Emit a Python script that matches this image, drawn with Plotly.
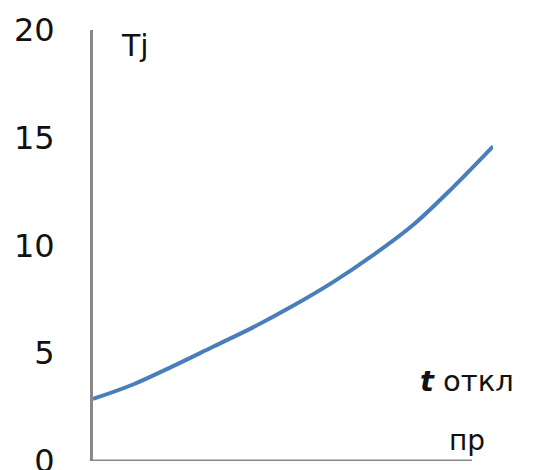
import plotly.graph_objects as go

# Data
x_vals = [0, 1, 2, 3, 4, 5, 6, 7, 8, 9, 10]
tj_vals = [2.88, 3.55, 4.4, 5.3, 6.2, 7.2, 8.3, 9.55, 10.95, 12.7, 14.6]
y_ticks = [0, 5, 10, 15, 20]
y_label = "Tj"
x_label_1 = "<b><i>t</i></b> откл"
x_label_2 = "пр"

FONT = "DejaVu Sans"

fig = go.Figure()
fig.add_trace(go.Scatter(
    x=x_vals, y=tj_vals, mode="lines",
    line=dict(color="#4A7EBB", width=4, shape="spline"),
    hoverinfo="skip", showlegend=False,
))

fig.update_layout(
    width=544, height=470,
    margin=dict(l=85, r=59, t=22, b=17, autoexpand=False),
    paper_bgcolor="white", plot_bgcolor="white",
    xaxis=dict(range=[0, 10], showline=False, showgrid=False, zeroline=False,
               showticklabels=False, ticks="", automargin=False),
    yaxis=dict(range=[0, 20], tickvals=y_ticks, showgrid=False, zeroline=False,
               showline=True, linecolor="#888888", linewidth=3,
               ticks="", ticklabelstandoff=29, automargin=False,
               ticklabeloverflow="allow",
               tickfont=dict(family=FONT, size=32, color="#111111")),
    shapes=[dict(type="line", xref="paper", yref="y", x0=-0.008, x1=0.9475,
                 y0=0, y1=0, line=dict(color="#888888", width=3))],
    annotations=[
        dict(text=y_label, xref="paper", yref="paper", x=0.065, y=1.01,
             xanchor="left", yanchor="top", showarrow=False,
             font=dict(family=FONT, size=30, color="#111111")),
        dict(text=x_label_1, xref="paper", yref="y", x=0.935, y=3.7,
             xanchor="center", yanchor="middle", showarrow=False,
             font=dict(family=FONT, size=29, color="#111111")),
        dict(text=x_label_2, xref="paper", yref="y", x=0.935, y=0.97,
             xanchor="center", yanchor="middle", showarrow=False,
             font=dict(family=FONT, size=28, color="#111111")),
    ],
)

fig.write_html("out.html")
